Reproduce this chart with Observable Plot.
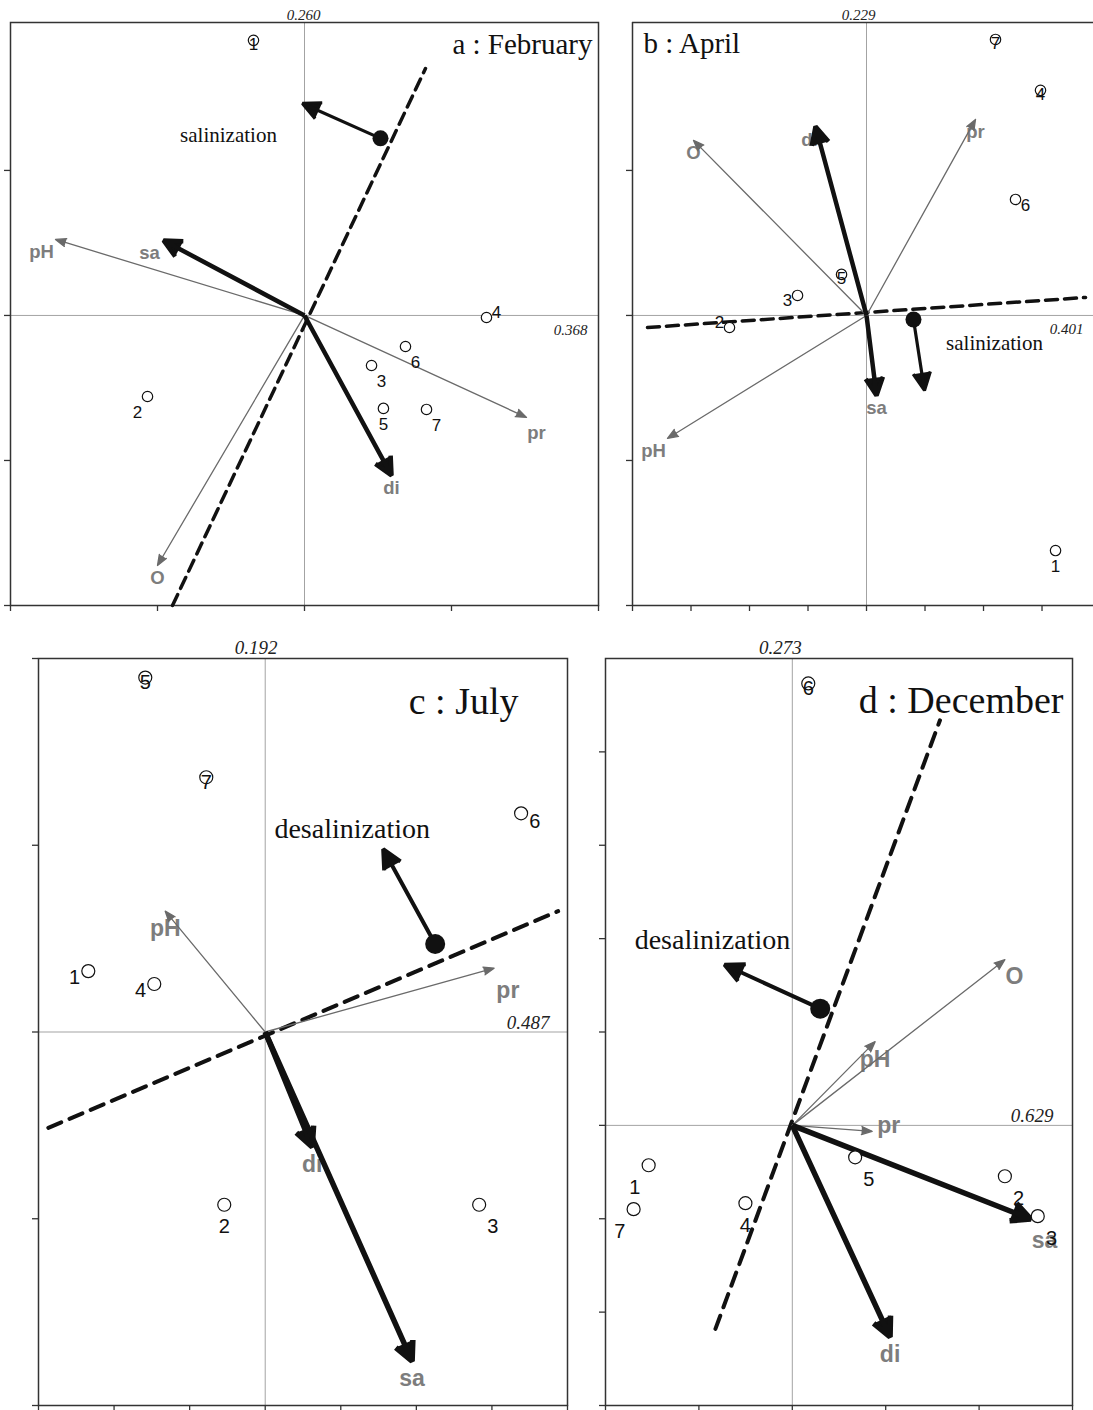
<!DOCTYPE html>
<html><head><meta charset="utf-8">
<script src="https://cdn.jsdelivr.net/npm/d3@7"></script>
<script src="https://cdn.jsdelivr.net/npm/@observablehq/plot@0.6"></script>
<style>
html,body{margin:0;padding:0;background:#fff;}
#wrap{position:relative;width:1093px;height:1410px;overflow:hidden;background:#fff;}
.panel{position:absolute;}
</style></head><body><div id="wrap"></div>
<script>
const siteIds = ["1","2","3","4","5","6","7"];

// ---- a : February
const febTitle = "a : February";
const febEigen = ["0.260", "0.368"];
const febSiteX = [-0.347, -1.068, 0.456, 1.238, 0.537, 0.687, 0.830];
const febSiteY = [1.897, -0.559, -0.345, -0.014, -0.641, -0.214, -0.648];
const febSitePos = ["c", "bl", "br", "ur", "b", "br", "br"];
const febEnvNames = ["pH", "pr", "O"];
const febEnvX = [-1.694, 1.510, -1.000];
const febEnvY = [0.524, -0.703, -1.724];
const febEnvPos = ["bl", "br", "b"];
const febKeyNames = ["sa", "di"];
const febKeyX = [-0.959, 0.592];
const febKeyY = [0.517, -1.103];
const febKeyPos = ["bl", "b"];
const febDashX = [-0.898, 0.823];
const febDashY = [-2.0, 1.703];
const febTrendX = [0.517, -0.014];
const febTrendY = [1.221, 1.462];
const febTrendLabel = ["salinization", -0.517, 1.241];

// ---- b : April
const aprTitle = "b : April";
const aprEigen = ["0.229", "0.401"];
const aprSiteX = [3.231, -2.342, -1.179, 2.974, -0.427, 2.547, 2.205];
const aprSiteY = [-1.621, -0.083, 0.138, 1.552, 0.283, 0.800, 1.903];
const aprSitePos = ["b", "ul", "l", "c", "c", "r", "c"];
const aprEnvNames = ["O", "pr", "pH"];
const aprEnvX = [-2.957, 1.863, -3.402];
const aprEnvY = [1.207, 1.352, -0.848];
const aprEnvPos = ["b", "b", "bl"];
const aprKeyNames = ["di", "sa"];
const aprKeyX = [-0.872, 0.171];
const aprKeyY = [1.303, -0.552];
const aprKeyPos = ["bl2", "b"];
const aprDashX = [-3.744, 3.744];
const aprDashY = [-0.083, 0.124];
const aprTrendX = [0.803, 0.991];
const aprTrendY = [-0.028, -0.517];
const aprTrendLabel = ["salinization", 2.188, -0.19];

// ---- c : July
const julTitle = "c : July";
const julEigen = ["0.192", "0.487"];
const julSiteX = [-2.341, -0.542, 2.831, -1.468, -1.587, 3.386, -0.780];
const julSiteY = [0.326, -0.925, -0.925, 0.257, 1.898, 1.171, 1.364];
const julSitePos = ["l", "b", "br", "l", "c", "r", "c"];
const julEnvNames = ["pH", "pr"];
const julEnvX = [-1.323, 3.029];
const julEnvY = [0.647, 0.342];
const julEnvPos = ["b", "br"];
const julKeyNames = ["di", "sa"];
const julKeyX = [0.622, 1.944];
const julKeyY = [-0.615, -1.763];
const julKeyPos = ["b", "b"];
const julDashX = [-2.870, 3.876];
const julDashY = [-0.513, 0.647];
const julTrendX = [2.249, 1.561];
const julTrendY = [0.471, 0.979];
const julTrendLabel = ["desalinization", 1.151, 1.086];

// ---- d : December
const decTitle = "d : December";
const decEigen = ["0.273", "0.629"];
const decSiteX = [-1.538, 2.276, 2.628, -0.502, 0.673, 0.171, -1.699];
const decSiteY = [-0.427, -0.545, -0.972, -0.833, -0.342, 4.733, -0.897];
const decSitePos = ["bl", "br", "br", "b", "br", "c", "bl"];
const decEnvNames = ["O", "pH", "pr"];
const decEnvX = [2.276, 0.887, 0.855];
const decEnvY = [1.774, 0.897, -0.064];
const decEnvPos = ["br2", "b", "r"];
const decKeyNames = ["sa", "di"];
const decKeyX = [2.553, 1.047];
const decKeyY = [-1.004, -2.265];
const decKeyPos = ["br", "b"];
const decDashX = [-0.823, 1.581];
const decDashY = [-2.179, 4.338];
const decTrendX = [0.299, -0.726];
const decTrendY = [1.25, 1.72];
const decTrendLabel = ["desalinization", -0.855, 1.987];

// ---- styling / layout
const serif = "'Liberation Serif','Times New Roman',serif";
const sans = "'Liberation Sans',Arial,sans-serif";
const SITE_OFF = {c:[0,4], b:[0,16], bl:[-10,16], br:[10,16], ur:[10,-5], ul:[-10,-5], l:[-10,5], r:[10,6]};
const VAR_OFF = {b:[0,13], bl:[-14,13], bl2:[-6,14], br:[10,16], br2:[7,12], r:[12,-4]};

const panels = [
  {d:{title:febTitle, eigen:febEigen, siteX:febSiteX, siteY:febSiteY, sitePos:febSitePos, envNames:febEnvNames, envX:febEnvX, envY:febEnvY, envPos:febEnvPos, keyNames:febKeyNames, keyX:febKeyX, keyY:febKeyY, keyPos:febKeyPos, dashX:febDashX, dashY:febDashY, trendX:febTrendX, trendY:febTrendY, trendLabel:febTrendLabel},
   L:{left:0, top:0, width:610, height:620, mt:22, mr:12, mb:15, ml:10, x:[-2,2], y:[-2,2.02], xTicks:[-2,-1,0,1,2], yTicks:[-2,-1,0,1], k:1,
      r:5.2, siteFont:17, varFont:18.5, trendFont:21, titleFont:29, eigFont:15, keyW:4.5, keyHead:6.6, trendW:3.2, dotR:8, dashW:3.5, dash:"12,7",
      titleAnchor:"top-right", titleDx:-6, titleDy:31, topDx:-1, topDy:-3, rightDx:-11, rightDy:20}},
  {d:{title:aprTitle, eigen:aprEigen, siteX:aprSiteX, siteY:aprSiteY, sitePos:aprSitePos, envNames:aprEnvNames, envX:aprEnvX, envY:aprEnvY, envPos:aprEnvPos, keyNames:aprKeyNames, keyX:aprKeyX, keyY:aprKeyY, keyPos:aprKeyPos, dashX:aprDashX, dashY:aprDashY, trendX:aprTrendX, trendY:aprTrendY, trendLabel:aprTrendLabel},
   L:{left:620, top:0, width:473, height:620, mt:22, mr:0, mb:15, ml:12, x:[-4,3.88], y:[-2,2.02], xTicks:[-4,-3,-2,-1,0,1,2,3], yTicks:[-2,-1,0,1], k:1, openRight:true,
      r:5.2, siteFont:17, varFont:18.5, trendFont:21, titleFont:29, eigFont:15, keyW:4.5, keyHead:6.6, trendW:3.2, dotR:8, dashW:3.5, dash:"12,7",
      titleAnchor:"top-left", titleDx:11, titleDy:30, topDx:-8, topDy:-3, rightDx:-10, rightDy:19}},
  {d:{title:julTitle, eigen:julEigen, siteX:julSiteX, siteY:julSiteY, sitePos:julSitePos, envNames:julEnvNames, envX:julEnvX, envY:julEnvY, envPos:julEnvPos, keyNames:julKeyNames, keyX:julKeyX, keyY:julKeyY, keyPos:julKeyPos, dashX:julDashX, dashY:julDashY, trendX:julTrendX, trendY:julTrendY, trendLabel:julTrendLabel},
   L:{left:0, top:630, width:590, height:780, mt:28, mr:23, mb:5, ml:38, x:[-3,4], y:[-2,2], xTicks:[-3,-2,-1,0,1,2,3,4], yTicks:[-2,-1,0,1,2], k:1.375,
      r:6.5, siteFont:20, varFont:23, trendFont:28, titleFont:38, eigFont:19, keyW:5.5, keyHead:5.8, trendW:4, dotR:10, dashW:4, dash:"14,9",
      titleAnchor:"top-right", titleDx:-49, titleDy:55, topDx:-9, topDy:-5, rightDx:-18, rightDy:-3}},
  {d:{title:decTitle, eigen:decEigen, siteX:decSiteX, siteY:decSiteY, sitePos:decSitePos, envNames:decEnvNames, envX:decEnvX, envY:decEnvY, envPos:decEnvPos, keyNames:decKeyNames, keyX:decKeyX, keyY:decKeyY, keyPos:decKeyPos, dashX:decDashX, dashY:decDashY, trendX:decTrendX, trendY:decTrendY, trendLabel:decTrendLabel},
   L:{left:590, top:630, width:503, height:780, mt:28, mr:21, mb:5, ml:15, x:[-2,3], y:[-3,5], xTicks:[-2,-1,0,1,2,3], yTicks:[-3,-2,-1,0,1,2,3,4], k:1.375,
      r:6.5, siteFont:20, varFont:23, trendFont:28, titleFont:38, eigFont:19, keyW:5.5, keyHead:5.8, trendW:4, dotR:10, dashW:4, dash:"14,9",
      titleAnchor:"top-right", titleDx:-9, titleDy:54, topDx:-12, topDy:-5, rightDx:-19, rightDy:-3}}
];

function makePanel(d, L) {
  const [xmin, xmax] = L.x, [ymin, ymax] = L.y;
  const fw = L.width - L.ml - L.mr, fh = L.height - L.mt - L.mb;
  const sx = fw / (xmax - xmin), sy = fh / (ymax - ymin);
  const place = (x, y, code, tbl) => {
    const [dx, dy] = tbl[code];
    return [x + dx * L.k / sx, y - dy * L.k / sy];
  };
  const sites = d.siteX.map((x, i) => {
    const [lx, ly] = place(x, d.siteY[i], d.sitePos[i], SITE_OFF);
    return {id: siteIds[i], x, y: d.siteY[i], lx, ly};
  });
  const env = d.envNames.map((n, i) => {
    const [lx, ly] = place(d.envX[i], d.envY[i], d.envPos[i], VAR_OFF);
    return {name: n, x: d.envX[i], y: d.envY[i], lx, ly};
  });
  const keys = d.keyNames.map((n, i) => {
    const [lx, ly] = place(d.keyX[i], d.keyY[i], d.keyPos[i], VAR_OFF);
    return {name: n, x: d.keyX[i], y: d.keyY[i], lx, ly};
  });
  const dash = d.dashX.map((x, i) => ({x, y: d.dashY[i]}));
  const trend = [{x1: d.trendX[0], y1: d.trendY[0], x2: d.trendX[1], y2: d.trendY[1]}];
  const frameStyle = {stroke: "#333", strokeWidth: 1.5};
  const marks = [
    Plot.ruleX([0], {stroke: "#a3a3a3", strokeWidth: 1}),
    Plot.ruleY([0], {stroke: "#a3a3a3", strokeWidth: 1}),
    L.openRight
      ? [Plot.ruleY([ymin, ymax], frameStyle), Plot.ruleX([xmin], frameStyle)]
      : Plot.frame(frameStyle),
    Plot.ruleX(L.xTicks, {x: d => d, y1: ymin, y2: ymin, insetTop: 0, insetBottom: -6, stroke: "#333", strokeWidth: 1.3}),
    Plot.ruleY(L.yTicks, {y: d => d, x1: xmin, x2: xmin, insetLeft: -6, insetRight: 0, stroke: "#333", strokeWidth: 1.3}),
    Plot.line(dash, {x: "x", y: "y", stroke: "#111", strokeWidth: L.dashW, strokeDasharray: L.dash}),
    Plot.text(env, {x: "lx", y: "ly", text: "name", fill: "#7d7d7d", fontWeight: "bold", fontSize: L.varFont, fontFamily: sans}),
    Plot.text(keys, {x: "lx", y: "ly", text: "name", fill: "#7d7d7d", fontWeight: "bold", fontSize: L.varFont, fontFamily: sans}),
    Plot.arrow(env, {x1: 0, y1: 0, x2: "x", y2: "y", stroke: "#6a6a6a", fill: "#6a6a6a", strokeWidth: 1.3, headLength: 13, headAngle: 42, strokeLinejoin: "miter"}),
    Plot.arrow(keys, {x1: 0, y1: 0, x2: "x", y2: "y", stroke: "#111", fill: "#111", strokeWidth: L.keyW, headLength: L.keyHead, headAngle: 52, strokeLinejoin: "miter", strokeLinecap: "butt"}),
    Plot.arrow(trend, {x1: "x1", y1: "y1", x2: "x2", y2: "y2", stroke: "#111", fill: "#111", strokeWidth: L.trendW, headLength: L.keyHead * L.keyW / L.trendW, headAngle: 52, strokeLinejoin: "miter", strokeLinecap: "butt"}),
    Plot.dot(trend, {x: "x1", y: "y1", r: L.dotR, fill: "#111", stroke: "none"}),
    Plot.dot(sites, {x: "x", y: "y", r: L.r, stroke: "#111", fill: "white", strokeWidth: 1.2}),
    Plot.text(sites, {x: "lx", y: "ly", text: "id", fill: "#111", fontSize: L.siteFont, fontFamily: sans}),
    Plot.text([d.trendLabel], {x: t => t[1], y: t => t[2], text: t => t[0], fill: "#111", fontSize: L.trendFont, fontFamily: serif}),
    Plot.text([d.title], {frameAnchor: L.titleAnchor, text: t => t, dx: L.titleDx, dy: L.titleDy, lineAnchor: "bottom",
      textAnchor: L.titleAnchor === "top-left" ? "start" : "end", fill: "#111", fontSize: L.titleFont, fontFamily: serif}),
    Plot.text([d.eigen[0]], {x: 0, y: ymax, text: t => t, dx: L.topDx, dy: L.topDy, lineAnchor: "bottom", textAnchor: "middle",
      fill: "#222", fontSize: L.eigFont, fontStyle: "italic", fontFamily: serif}),
    Plot.text([d.eigen[1]], {x: xmax, y: 0, text: t => t, dx: L.rightDx, dy: L.rightDy, lineAnchor: "bottom", textAnchor: "end",
      fill: "#222", fontSize: L.eigFont, fontStyle: "italic", fontFamily: serif})
  ];
  return Plot.plot({
    width: L.width, height: L.height,
    marginTop: L.mt, marginRight: L.mr, marginBottom: L.mb, marginLeft: L.ml,
    x: {domain: L.x, axis: null},
    y: {domain: L.y, axis: null},
    style: {background: "white", overflow: "visible"},
    marks
  });
}

const wrap = document.getElementById("wrap");
for (const {d, L} of panels) {
  const div = document.createElement("div");
  div.className = "panel";
  div.style.left = L.left + "px";
  div.style.top = L.top + "px";
  div.style.width = L.width + "px";
  div.style.height = L.height + "px";
  div.appendChild(makePanel(d, L));
  wrap.appendChild(div);
}
</script>
</body></html>
